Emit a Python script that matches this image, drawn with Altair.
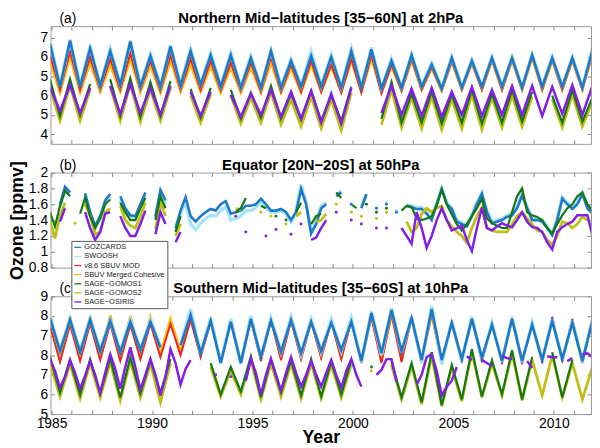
import altair as alt
import pandas as pd

FONT = "Liberation Sans"
NAMES = ["GOZCARDS", "SWOOSH", "v8.6 SBUV MOD", "SBUV Merged Cohesive",
         "SAGE−GOMOS1", "SAGE−GOMOS2", "SAGE−OSIRIS"]
COLORS = ["#1e78c8", "#a8e4f8", "#e6281e", "#ffbe14", "#147814", "#bebe14", "#821ee6"]
WIDTHS = {"GOZCARDS": 2.6, "SWOOSH": 3.4, "v8.6 SBUV MOD": 2.0, "SBUV Merged Cohesive": 2.6,
          "SAGE−GOMOS1": 2.2, "SAGE−GOMOS2": 2.8, "SAGE−OSIRIS": 2.5}
UPPER = ["GOZCARDS", "SWOOSH", "v8.6 SBUV MOD", "SBUV Merged Cohesive"]
YEARS = list(range(1985, 2012))
X_DOMAIN = [1984.95, 2011.85]
T0 = 1984.92          # first sample: December 1984
HALF = 0.5            # winter / summer samples
QUARTER = 0.25        # Dec, Mar, Jun, Sep samples

# ---------------- (a) 2 hPa, 35-60N : (winter, summer) per year 1985..2011, then Dec 2011
A_GOZ = [6.70, 4.45, 6.85, 4.45, 6.45, 4.50, 6.30, 4.55, 6.80, 4.45,
         6.05, 4.45, 6.55, 4.50, 6.30, 4.55, 6.10, 4.45, 6.10, 4.40,
         5.95, 4.40, 6.30, 4.40, 5.80, 4.45, 6.05, 4.45, 6.00, 4.40,
         6.30, 4.40, 6.40, 4.35, 5.80, 4.40, 6.10, 4.45, 5.60, 4.35,
         5.95, 4.40, 5.80, 4.45, 5.95, 4.45, 5.95, 4.40, 6.10, 4.45,
         5.95, 4.45, 5.95, 4.40, 6.35]
A_SWO = [6.80, 4.50, 6.90, 4.50, 6.55, 4.55, 6.40, 4.60, 6.85, 4.50,
         6.15, 4.50, 6.60, 4.55, 6.40, 4.60, 6.20, 4.50, 6.20, 4.45,
         6.05, 4.45, 6.35, 4.45, 5.90, 4.50, 6.30, 4.50, 6.10, 4.45,
         6.45, 4.45, 6.50, 4.40, 5.90, 4.45, 6.15, 4.50, 5.70, 4.40,
         6.00, 4.45, 5.85, 4.50, 6.00, 4.50, 6.00, 4.45, 6.15, 4.50,
         6.00, 4.50, 6.00, 4.45, 6.45]
A_MOD = [6.10, 4.30, 6.30, 4.30, 6.00, 4.30, 5.90, 4.30, 6.20, 4.30,
         5.80, 4.25, 6.10, 4.30, 5.90, 4.30, 5.80, 4.25, 5.70, 4.25,
         5.70, 4.20, 6.00, 4.20, 5.60, 4.20, 5.80, 4.20, 5.60, 4.15,
         5.90, 4.15, 6.10, 4.10, 5.60, 4.25, 5.90, 4.30, 5.50, 4.25,
         5.80, 4.30, 5.70, 4.30, 5.85, 4.30, 5.85, 4.30, 6.00, 4.30,
         5.85, 4.30, 5.85, 4.30, 6.20]
A_MC = [5.80, 4.15, 6.00, 4.15, 5.70, 4.20, 5.60, 4.20, 5.90, 4.15,
        5.55, 4.15, 5.80, 4.20, 5.60, 4.20, 5.50, 4.15, 5.45, 4.15,
        5.45, 4.15, 5.70, 4.15, 5.40, 4.15, 5.60, 4.20, 5.50, 4.20,
        5.80, 4.20, 5.90, 4.20, 5.50, 4.25, 5.80, 4.30, 5.40, 4.25,
        5.75, 4.30, 5.65, 4.30, 5.80, 4.30, 5.80, 4.30, 5.95, 4.30,
        5.80, 4.30, 5.80, 4.30, 6.10]
A_G1 = [6.85, 4.95, 6.85, 5.00, 6.60, None, 6.85, 4.95, 6.90, 4.90,
        6.70, 4.95, 6.75, None, 6.35, 4.85, 6.40, None, 6.30, 4.80,
        6.15, 4.85, 6.50, 4.80, 6.10, 4.75, 6.25, 4.70, 6.00, 4.70,
        6.45, None, None, 4.80, 6.70, 4.60, 6.10, 4.60, 6.20, 4.55,
        6.05, 4.60, 6.30, 4.55, 6.10, 4.60, 6.30, 4.65, 6.20, None,
        6.00, 4.60, 6.30, 4.65, 5.90]
A_G2 = [6.40, 4.70, 6.50, 4.70, 6.30, None, 6.45, 4.70, 6.60, 4.65,
        6.30, 4.70, 6.40, None, 6.00, 4.60, 6.05, None, 6.00, 4.55,
        5.90, 4.60, 6.20, 4.50, 5.80, 4.40, 5.95, 4.30, 5.80, 4.20,
        6.15, None, None, 4.50, 6.30, 4.35, 5.90, 4.30, 5.95, 4.25,
        5.80, 4.30, 6.05, 4.25, 5.90, 4.35, 6.00, 4.40, 5.95, None,
        5.80, 4.35, 6.05, 4.40, 5.70]
A_OS = [6.45, 5.20, 6.55, 5.10, 6.40, None, 6.50, 5.05, 6.60, 5.10,
        6.40, 5.00, 6.50, None, 6.20, 4.95, 6.20, None, 6.05, 4.90,
        6.10, 5.00, 6.30, 4.90, 6.20, 4.80, 6.25, 4.60, 6.10, 4.55,
        6.40, None, None, 5.10, 6.50, 5.00, 6.35, 4.95, 6.40, 4.90,
        6.20, 5.00, 6.45, 4.95, 6.30, 5.00, 6.50, 5.00, 6.50, 4.95,
        6.45, 5.05, 6.55, 5.00, 6.50]

# ---------------- (b) 50 hPa, 20N-20S : Dec 1984, then (Mar, Jun, Sep, Dec) per year
B_GOZ = [None,
         None, 1.60, 1.82, 1.75, None, None, 1.74, 1.50, 1.33, 1.45, 1.65, 1.73,
         None, 1.70, 1.55, 1.46, 1.45, 1.60, 1.75, None, 1.45, 1.78, 1.65, None,
         1.30, 1.52, 1.69, 1.45, 1.38, 1.45, 1.50, 1.54, 1.52, 1.60, 1.64, 1.48,
         1.50, 1.52, 1.58, 1.58, 1.60, 1.67, 1.60, 1.52, 1.52, 1.54, 1.50, 1.40,
         1.50, 1.79, 1.60, 1.23, 1.35, 1.55, 1.60, None, 1.70, 1.75, None, 1.60,
         None, 1.55, 1.73, None, 1.55, None, 1.60, None, 1.50, None, 1.58, 1.56,
         1.54, 1.54, 1.48, 1.40, 1.60, 1.79, 1.60, 1.54, 1.38, 1.35, 1.32, 1.45,
         1.60, 1.73, 1.50, 1.36, 1.38, 1.40, 1.44, 1.46, 1.55, 1.71, 1.55, 1.40,
         1.40, 1.38, 1.30, 1.21, 1.40, 1.67, 1.60, 1.54, 1.60, 1.73, 1.55, 1.48]
B_SWO = [None,
         None, 1.56, 1.78, 1.72, None, None, 1.70, 1.46, 1.30, 1.42, 1.62, 1.70,
         None, 1.66, 1.50, 1.42, 1.42, 1.57, 1.72, None, 1.42, 1.75, 1.60, None,
         1.27, 1.48, 1.62, 1.35, 1.28, 1.36, 1.42, 1.46, 1.45, 1.52, 1.57, 1.40,
         1.42, 1.45, 1.52, 1.52, 1.56, 1.63, 1.56, 1.50, 1.50, 1.52, 1.48, 1.38,
         1.52, 1.85, 1.62, 1.25, 1.38, 1.58, 1.62, None, 1.72, 1.77, None, 1.60,
         None, 1.57, 1.72, None, 1.55, None, 1.62, None, 1.52, None, 1.60, 1.58,
         1.56, 1.56, 1.50, 1.42, 1.62, 1.80, 1.62, 1.55, 1.40, 1.37, 1.34, 1.47,
         1.62, 1.75, 1.52, 1.38, 1.40, 1.42, 1.46, 1.48, 1.57, 1.73, 1.57, 1.42,
         1.42, 1.40, 1.32, 1.23, 1.42, 1.69, 1.62, 1.56, 1.62, 1.75, 1.57, 1.50]
B_G1 = [1.50,
        1.32, 1.58, 1.77, 1.70, None, 1.48, 1.68, 1.45, 1.30, 1.42, 1.60, 1.66,
        None, 1.62, 1.50, 1.40, 1.40, 1.55, 1.68, None, 1.40, 1.70, 1.55, None,
        1.25, 1.45, None, None, None, None, None, None, None, None, None, None,
        1.50, 1.55, 1.68, None, None, 1.58, 1.55, None, 1.45, None, 1.40, None,
        1.50, 1.62, None, 1.35, 1.45, 1.48, None, None, 1.75, 1.68, None, 1.60,
        1.55, None, 1.60, None, 1.50, None, 1.55, None, None, 1.52, 1.58, 1.57,
        1.42, 1.40, 1.42, 1.45, 1.58, 1.79, 1.60, 1.47, 1.35, 1.27, 1.35, 1.45,
        1.55, 1.67, 1.42, 1.36, 1.33, 1.30, 1.30, 1.50, 1.70, 1.80, 1.50, 1.46,
        1.44, 1.40, 1.30, 1.23, 1.35, 1.46, 1.55, 1.60, 1.70, 1.75, 1.60, 1.52]
B_G2 = [1.40,
        1.17, 1.45, 1.62, None, 1.36, None, 1.60, 1.45, 1.22, 1.25, 1.50, 1.55,
        None, 1.58, 1.40, 1.33, 1.30, 1.45, 1.62, None, 1.28, 1.62, 1.45, None,
        1.20, 1.35, None, None, None, None, None, None, None, None, None, None,
        1.55, 1.52, None, None, None, 1.50, None, 1.45, None, None, 1.35, None,
        1.45, 1.50, None, None, 1.38, 1.40, 1.48, None, 1.60, None, None, 1.50,
        None, 1.45, None, None, 1.42, None, 1.50, None, None, None, 1.38, 1.25,
        1.30, 1.48, 1.55, 1.50, 1.55, 1.58, 1.40, 1.32, 1.25, 1.20, 1.11, 1.30,
        1.45, 1.56, 1.30, 1.27, 1.25, 1.25, 1.25, 1.35, 1.45, 1.50, 1.42, 1.35,
        1.27, 1.25, 1.15, 1.09, 1.20, 1.38, 1.36, 1.30, 1.35, 1.44, 1.40, None]
B_OS = [None,
        None, 1.38, 1.55, None, None, None, 1.50, 1.30, 1.15, 1.25, 1.48, 1.50,
        None, 1.45, 1.30, 1.20, 1.20, 1.35, 1.52, None, 1.22, 1.50, 1.35, None,
        1.12, 1.25, None, None, None, None, None, None, None, None, None, None,
        1.45, None, 1.25, None, None, None, 1.20, None, 1.28, None, None, 1.22,
        None, 1.35, None, 1.15, 1.18, 1.30, 1.40, None, 1.50, None, None, 1.40,
        None, 1.35, None, None, 1.30, None, 1.30, None, None, 1.30, 1.20, 1.10,
        1.50, 1.30, 1.05, 1.20, 1.40, 1.55, 1.40, 1.27, 1.30, 1.33, 1.15, 1.01,
        1.30, 1.56, 1.30, 1.27, 1.32, 1.36, 1.33, 1.31, 1.40, 1.50, 1.38, 1.31,
        1.30, 1.25, 1.12, 1.03, 1.25, 1.31, 1.35, 1.38, 1.46, 1.46, 1.46, 1.21]

# ---------------- (c) 10 hPa, 35-60S : (summer, winter) per year 1985..2011, then Dec 2011
C_GOZ = [7.90, 6.20, 7.80, 6.15, 7.80, 6.20, 7.75, 6.15, 7.70, 6.25,
         7.70, 6.40, None, 6.50, 8.05, 6.10, 7.75, 5.60, 7.70, 5.60,
         7.85, 5.90, 7.75, 6.15, 7.80, 6.10, 7.70, 6.20, 7.65, 6.25,
         7.70, 5.70, 8.15, 6.10, 8.30, 6.20, 7.90, 5.75, 8.35, 5.75,
         7.65, 5.80, 7.85, 5.85, 7.55, 5.70, 7.85, 5.70, 7.55, 5.75,
         7.75, 5.80, 7.65, 5.70, 7.75]
C_SWO = [8.00, 6.25, 7.85, 6.20, 7.85, 6.25, 7.80, 6.20, 7.80, 6.30,
         7.80, 6.45, None, 6.55, 8.35, 6.10, 7.90, 5.60, 7.85, 5.55,
         8.00, 5.90, 7.90, 6.15, 7.95, 6.05, 7.85, 6.15, 7.85, 6.20,
         7.90, 5.65, 8.25, 6.00, 8.40, 6.15, 7.95, 5.60, 8.50, 5.55,
         7.75, 5.70, 7.95, 5.80, 7.65, 5.65, 7.95, 5.65, 7.65, 5.70,
         7.85, 5.75, 7.75, 5.65, 7.85]
C_MOD = [7.50, 5.65, 7.55, 5.70, 7.60, 5.75, 7.60, 5.70, 7.55, 5.80,
         7.60, 5.90, 7.60, 6.00, 7.80, 5.90, 7.70, 5.70, 7.70, 5.60,
         7.80, 5.70, 7.75, 5.75, 7.75, 5.80, 7.70, 5.85, 7.70, 5.80,
         7.75, 5.60, 7.95, 5.60, 8.10, 5.65, 7.90, 5.60, 8.15, 5.55,
         7.75, 5.65, 7.95, 5.65, 7.70, 5.55, 7.95, 5.55, 7.70, 5.60,
         7.95, 5.65, 7.85, 5.60, 7.90]
C_MC = [8.10, 5.95, 8.00, 5.95, 8.00, 6.00, 8.05, 5.95, 8.00, 6.05,
        7.95, 6.10, 7.85, 6.20, 7.95, 6.10, 7.75, 5.75, 7.75, 5.70,
        7.85, 5.80, 7.85, 5.90, 7.80, 5.90, 7.75, 5.95, 7.80, 5.90,
        7.80, 5.70, 8.00, 5.80, 8.05, 5.85, 7.85, 5.75, 8.05, 5.70,
        7.65, 5.75, 7.85, 5.80, 7.60, 5.70, 7.85, 5.70, 7.65, 5.75,
        7.85, 5.75, 7.75, 5.75, 7.75]
C_G1 = [7.95, 6.10, 7.75, 6.00, 7.80, 6.05, 7.85, 5.85, 7.90, 6.05,
        7.75, 6.10, 7.80, None, None, None, 7.60, 6.00, 7.40, 6.15,
        7.95, 5.85, 7.80, 6.10, 7.75, 5.95, 7.80, 5.90, 7.70, 6.00,
        7.75, None, 7.40, None, 7.70, 5.85, 7.60, 5.60, 8.15, 5.45,
        7.50, 5.75, 8.30, 5.90, 7.75, 6.00, 8.25, 5.75, 7.90, None,
        8.15, 5.85, 7.75, None, 7.50]
C_G2 = [7.60, 5.90, 7.55, 5.80, 7.60, 5.85, 7.65, 5.70, 7.70, 5.85,
        7.55, 5.60, 7.60, None, None, None, 7.40, 5.90, 7.20, 6.00,
        7.75, 5.75, 7.60, 5.90, 7.55, 5.80, 7.60, 5.80, 7.50, 5.85,
        7.55, None, 7.20, None, 7.50, 5.75, 7.45, 5.50, 7.95, 5.40,
        7.35, 5.65, 8.15, 5.85, 7.60, 5.95, 8.10, 5.70, 7.75, 5.95,
        8.00, 5.85, 7.60, 5.75, 7.40]
C_OS = [7.80,
        7.20, 6.35, 6.90, 7.75, 7.10, 6.30, 6.95, 7.70, 7.00, 6.10, 7.10, 8.05,
        7.30, 6.30, 7.40, 8.40, 7.40, 6.25, 7.00, 7.80, 7.00, 5.95, 6.90, 8.30,
        7.60, 6.50, 7.30, 7.75, None, None, None, None, 7.00, None, None, 6.90,
        None, None, 6.70, 7.80, 7.10, 6.00, 7.00, 7.80, 7.00, 6.20, 7.10, 7.90,
        7.10, 6.40, 7.00, 7.70, 7.00, 6.40, 7.10, 7.75, 7.00, 6.35, 7.20, 7.80,
        7.00, 6.40, None, None, 7.00, 7.25, 7.80, 7.80, 6.65, None, None, None,
        6.50, 7.00, 7.90, 8.05, 7.20, 5.95, 6.40, 6.70, 7.40, None, 7.95, 7.75,
        None, 7.75, 7.60, 7.45, None, 7.95, 7.85, 7.80, None, None, 7.70, 7.35,
        None, None, 7.95, 7.90, 7.90, None, 7.70, 7.85, None, 8.05, 8.10, 7.90]

PANELS = [
    dict(tag="(a)", title="Northern Mid−latitudes [35−60N] at 2hPa", shift=2.0,
         domain=[3.5, 9.6], ticks=[4, 5, 6, 7, 8, 9], height=119,
         labels="format(datum.value >= 7 ? datum.value - 2 : datum.value, 'd')",
         series=[("SBUV Merged Cohesive", HALF, A_MC), ("v8.6 SBUV MOD", HALF, A_MOD),
                 ("SWOOSH", HALF, A_SWO), ("GOZCARDS", HALF, A_GOZ),
                 ("SAGE−GOMOS2", HALF, A_G2), ("SAGE−GOMOS1", HALF, A_G1),
                 ("SAGE−OSIRIS", HALF, A_OS)]),
    dict(tag="(b)", title="Equator [20N−20S] at 50hPa", shift=0.0,
         domain=[0.8, 2.0], ticks=[0.8, 1.0, 1.2, 1.4, 1.6, 1.8, 2.0], height=96,
         labels="format(datum.value, '~g')",
         series=[("SWOOSH", QUARTER, B_SWO), ("GOZCARDS", QUARTER, B_GOZ),
                 ("SAGE−GOMOS2", QUARTER, B_G2), ("SAGE−GOMOS1", QUARTER, B_G1),
                 ("SAGE−OSIRIS", QUARTER, B_OS)]),
    dict(tag="(c)", title="Southern Mid−latitudes [35−60S] at 10hPa", shift=2.0,
         domain=[5, 11], ticks=[5, 6, 7, 8, 9, 10, 11], height=119,
         labels="format(datum.value >= 9 ? datum.value - 2 : datum.value, 'd')",
         series=[("SBUV Merged Cohesive", HALF, C_MC), ("v8.6 SBUV MOD", HALF, C_MOD),
                 ("SWOOSH", HALF, C_SWO), ("GOZCARDS", HALF, C_GOZ),
                 ("SAGE−GOMOS2", HALF, C_G2), ("SAGE−GOMOS1", HALF, C_G1),
                 ("SAGE−OSIRIS", QUARTER, C_OS)]),
]

W = 546
CSCALE = alt.Scale(domain=NAMES, range=COLORS)
LEG = alt.Legend(orient="none", legendX=21, legendY=217, title=None,
                 symbolType="stroke", symbolSize=50, symbolStrokeWidth=1.3,
                 labelFont=FONT, labelFontSize=7.5, labelColor="#222",
                 fillColor="white", strokeColor="#555", padding=2,
                 rowPadding=1.2, labelOffset=2, direction="vertical")


def build(spec):
    recs = []
    for name, step, vals in spec["series"]:
        shift = spec["shift"] if name in UPPER else 0.0
        seg = 0
        for i, v in enumerate(vals):
            if v is None:
                seg += 1
                continue
            recs.append({"series": name, "t": round(T0 + i * step, 4),
                         "v": round(v + shift, 4), "seg": f"{name}|{seg}"})
    df = pd.DataFrame(recs)
    df["single"] = df.groupby("seg")["seg"].transform("size") == 1
    return df


def panel(spec, idx):
    last = idx == 2
    df = build(spec)
    xs = alt.Scale(domain=X_DOMAIN, nice=False, zero=False)
    ys = alt.Scale(domain=spec["domain"], nice=False, zero=False)
    x_bottom = alt.Axis(orient="bottom", values=YEARS, offset=-4, tickSize=4,
                        labelExpr="datum.value % 5 === 0 ? format(datum.value, 'd') : ''",
                        labels=last, labelFlush=False, labelOverlap=False, labelPadding=3,
                        title="Year" if last else None, titleFontSize=18, titlePadding=-2)
    y_left = alt.Axis(orient="left", values=spec["ticks"], offset=-4, tickSize=4,
                      labelExpr=spec["labels"], labelPadding=3, labelOverlap=False,
                      title="Ozone [ppmv]" if idx == 1 else None, titlePadding=2)
    x_top = alt.Axis(orient="top", values=YEARS, offset=-4, tickSize=4, labels=False, title=None)
    y_right = alt.Axis(orient="right", values=spec["ticks"], offset=-4, tickSize=4,
                       labels=False, title=None)
    layers = []
    first = True
    for name, _, _ in spec["series"]:
        sub = df[df.series == name].reset_index(drop=True)
        layers.append(
            alt.Chart(sub).mark_line(strokeWidth=WIDTHS[name], clip=True).encode(
                x=alt.X("t:Q", scale=xs, axis=x_bottom if first else None),
                y=alt.Y("v:Q", scale=ys, axis=y_left if first else None),
                color=alt.Color("series:N", scale=CSCALE, legend=LEG),
                detail="seg:N",
            )
        )
        first = False
    singles = df[df.single].reset_index(drop=True)
    if len(singles):
        layers.append(
            alt.Chart(singles).mark_circle(size=9, opacity=1, clip=True).encode(
                x=alt.X("t:Q", scale=xs, axis=None),
                y=alt.Y("v:Q", scale=ys, axis=None),
                color=alt.Color("series:N", scale=CSCALE, legend=LEG),
            )
        )
    frame = alt.Chart(df.head(1)).mark_point(opacity=0).encode(
        x=alt.X("t:Q", scale=xs, axis=x_top),
        y=alt.Y("v:Q", scale=ys, axis=y_right),
    )
    texts = pd.DataFrame({"tag": [spec["tag"]], "title": [spec["title"]]})
    tag = alt.Chart(texts).mark_text(
        align="left", baseline="alphabetic", fontSize=14, font=FONT, color="black"
    ).encode(text="tag:N", x=alt.value(9), y=alt.value(-3))
    head = alt.Chart(texts).mark_text(
        align="center", baseline="alphabetic", fontSize=15, fontWeight="bold",
        font=FONT, color="black"
    ).encode(text="title:N", x=alt.value(W / 2), y=alt.value(-3))
    return alt.layer(*layers, frame, tag, head).resolve_axis(
        x="independent", y="independent"
    ).properties(width=W, height=spec["height"])


chart = alt.vconcat(*[panel(s, i) for i, s in enumerate(PANELS)],
                    spacing=29, bounds="flush").properties(padding=0).configure_view(
    stroke="#9a9a9a", strokeWidth=1
).configure_axis(
    labelFont=FONT, labelFontSize=14, labelColor="black", tickColor="#8a8a8a",
    domain=False, grid=False, titleFont=FONT, titleFontSize=18,
    titleFontWeight="bold", titleColor="black"
)

chart.save("out.html", embed_options={"renderer": "svg", "actions": False})
